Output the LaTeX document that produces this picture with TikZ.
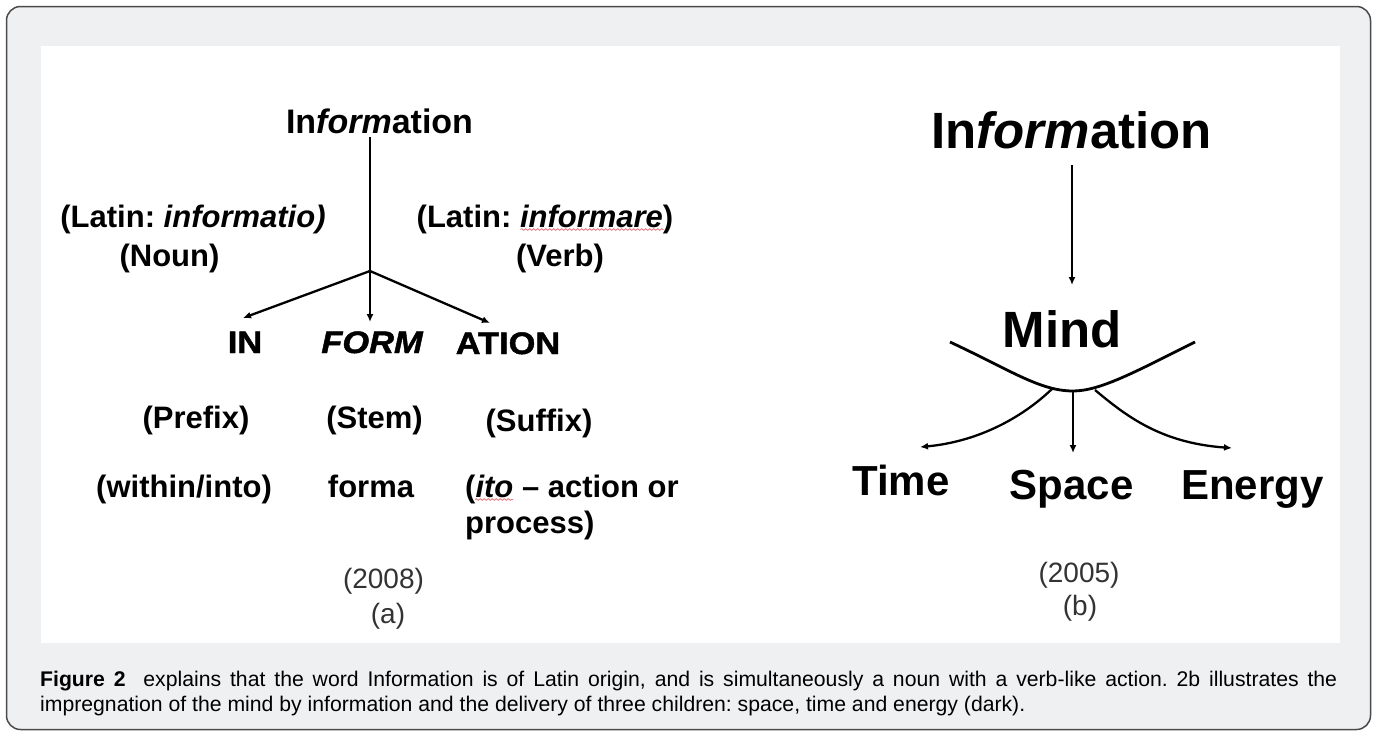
\documentclass[tikz,border=0pt]{standalone}
\usepackage{fontspec}
\setmainfont{Liberation Sans}
\newfontfamily\heavyfont[FakeStretch=1.11,FakeBold=1.5]{Liberation Sans}
\usetikzlibrary{arrows.meta}
\usetikzlibrary{decorations.pathmorphing}
\definecolor{paneGray}{HTML}{EFF0F2}
\definecolor{frameGray}{HTML}{4A4A4A}
\definecolor{yearGray}{HTML}{333333}
\definecolor{spellRed}{HTML}{E8737A}
\frenchspacing
\tikzset{
title/.style={inner sep=0pt, anchor=base, font=\bfseries\fontsize{34}{40}\selectfont},
label/.style={inner sep=0pt, anchor=base, font=\bfseries\fontsize{31}{36}\selectfont},
part/.style={inner sep=0pt, anchor=base, font=\heavyfont\bfseries\fontsize{31}{36}\selectfont},
big/.style={inner sep=0pt, anchor=base, font=\bfseries\fontsize{51}{60}\selectfont},
child/.style={inner sep=0pt, anchor=base, font=\bfseries\fontsize{42}{50}\selectfont},
year/.style={inner sep=0pt, anchor=base, text=yearGray, font=\fontsize{28}{32}\selectfont},
caption/.style={inner sep=0pt, anchor=north west, text width=1297pt, align=justify, font=\fontsize{21.2}{25}\selectfont},
plainline/.style={line width=2.5pt},
arrowline/.style={line width=2.3pt, -{Latex[length=8pt,width=7pt]}},
curve/.style={line width=2.8pt},
spell/.style={spellRed, line width=0.8pt, decorate, decoration={snake, amplitude=0.8pt, segment length=4pt}},
}

\begin{document}
\begin{tikzpicture}[x=1pt, y=-1pt]
		\useasboundingbox (0, 0) rectangle (1377, 731);
		\draw [fill=paneGray, draw=frameGray, line width=1.5pt, rounded corners=14pt] (6.5, 6.5) rectangle (1370.5, 729.5);
		\fill [white] (41, 46) rectangle (1340, 643);

		\node [style=title] (info) at (379.5, 133) {In\textit{form}ation};
		\node [style=label] (latN) at (193, 227) {(Latin: \textit{informatio)}};
		\node [style=label] (noun) at (169.5, 266) {(Noun)};
		\node [style=label] (latV) at (545, 227) {(Latin: \textit{informare})};
		\node [style=label] (verb) at (560, 266) {(Verb)};
		\node [style=part] (in) at (245, 353) {IN};
		\node [style=part] (form) at (372, 353) {\itshape FORM};
		\node [style=part] (ation) at (508, 354) {ATION};
		\node [style=label] (prefix) at (196, 428) {(Prefix)};
		\node [style=label] (stem) at (374.5, 428) {(Stem)};
		\node [style=label] (suffix) at (539, 431) {(Suffix)};
		\node [style=label] (within) at (184, 497) {(within/into)};
		\node [style=label] (forma) at (371, 497) {forma};
		\node [style=label, anchor=base west] (ito) at (465, 497) {(\textit{ito} – action or};
		\node [style=label, anchor=base west] (process) at (465, 533) {process)};
		\node [style=year] (y08) at (383.5, 588) {(2008)};
		\node [style=year] (a) at (388, 623) {(a)};
		\coordinate (0) at (370, 137);
		\coordinate (1) at (370, 271);
		\coordinate (2) at (243, 318);
		\coordinate (3) at (370, 322);
		\coordinate (4) at (490, 323);
		\draw [style=plainline] (0) to (1);
		\draw [style=arrowline] (1) to (2);
		\draw [style=arrowline] (1) to (3);
		\draw [style=arrowline] (1) to (4);
		\draw [style=spell] ([xshift=-153pt, yshift=-2.5pt]latV.base east) to ([xshift=-10pt, yshift=-2.5pt]latV.base east);
		\draw [style=spell] ([xshift=10pt, yshift=-2.5pt]ito.base west) to ([xshift=48pt, yshift=-2.5pt]ito.base west);

		\node [style=big] (info2) at (1071.7, 148) {In\textit{form}ation};
		\node [style=big] (mind) at (1062, 347) {Mind};
		\node [style=child] (time) at (901, 495) {Time};
		\node [style=child] (space) at (1071.5, 499) {Space};
		\node [style=child] (energy) at (1252.5, 499) {Energy};
		\node [style=year] (y05) at (1079, 582) {(2005)};
		\node [style=year] (b) at (1080, 615) {(b)};
		\coordinate (5) at (1072, 165);
		\coordinate (6) at (1072, 285);
		\coordinate (7) at (950, 342);
		\coordinate (8) at (1073, 391);
		\coordinate (9) at (1195, 342);
		\coordinate (10) at (1053, 388);
		\coordinate (11) at (920, 447);
		\coordinate (12) at (1073, 453);
		\coordinate (13) at (1095, 390);
		\coordinate (14) at (1232, 448);
		\draw [style=arrowline] (5) to (6);
		\draw [style=curve] (7) .. controls (1010, 370) and (1040, 391) .. (8) .. controls (1100, 391) and (1135, 372) .. (9);
		\draw [style=arrowline] (10) .. controls (1020, 420) and (975, 442) .. (11);
		\draw [style=arrowline] (8) to (12);
		\draw [style=arrowline] (13) .. controls (1125, 415) and (1160, 443) .. (14);

		\node [style=caption] (cap) at (40, 671) {\textbf{Figure 2}\ \ explains that the word Information is of Latin origin, and is simultaneously a noun with a verb-like action. 2b illustrates the\linebreak impregnation of the mind by information and the delivery of three children: space, time and energy (dark).};
	\end{tikzpicture}
\end{document}
